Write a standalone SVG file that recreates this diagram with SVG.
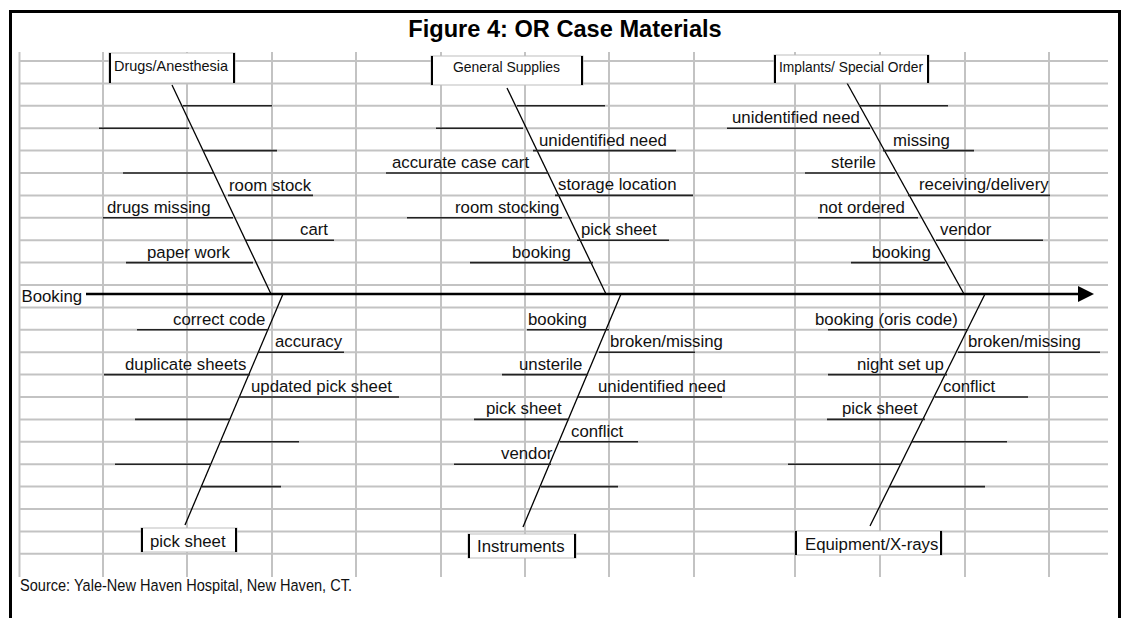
<svg xmlns="http://www.w3.org/2000/svg" width="1123" height="618" viewBox="0 0 1123 618">
<style>
.grid line{stroke:#c3c3c3;stroke-width:2}
.frame{stroke:#000;stroke-width:3;fill:none}
.bone{stroke:#000;stroke-width:1.3;fill:none}
.rib{stroke:#222;stroke-width:1.6}
.lbl{font-family:"Liberation Sans",Arial,sans-serif;font-size:16.8px;fill:#111}
.cat{font-family:"Liberation Sans",Arial,sans-serif;font-size:14.5px;fill:#111}
.box{fill:#fff;stroke:#bdbdbd;stroke-width:1}
.side{stroke:#000;stroke-width:2}
.title{font-family:"Liberation Sans",Arial,sans-serif;font-size:23.6px;font-weight:bold;fill:#000}
</style>
<defs>
<marker id="arrow" viewBox="0 0 16 16" refX="0" refY="8" markerWidth="16" markerHeight="16" markerUnits="userSpaceOnUse" orient="auto">
<path d="M0,0 L16,8 L0,16 z" fill="#000"/>
</marker>
</defs>
<rect width="1123" height="618" fill="#fff"/>
<g class="grid">
<line x1="19" y1="61" x2="1108" y2="61"/><line x1="19" y1="83.4" x2="1108" y2="83.4"/><line x1="19" y1="105.8" x2="1108" y2="105.8"/><line x1="19" y1="128.2" x2="1108" y2="128.2"/><line x1="19" y1="150.6" x2="1108" y2="150.6"/><line x1="19" y1="173" x2="1108" y2="173"/><line x1="19" y1="195.4" x2="1108" y2="195.4"/><line x1="19" y1="217.8" x2="1108" y2="217.8"/><line x1="19" y1="240.2" x2="1108" y2="240.2"/><line x1="19" y1="262.6" x2="1108" y2="262.6"/><line x1="19" y1="285" x2="1108" y2="285"/><line x1="19" y1="307.4" x2="1108" y2="307.4"/><line x1="19" y1="329.8" x2="1108" y2="329.8"/><line x1="19" y1="352.2" x2="1108" y2="352.2"/><line x1="19" y1="374.6" x2="1108" y2="374.6"/><line x1="19" y1="397" x2="1108" y2="397"/><line x1="19" y1="419.4" x2="1108" y2="419.4"/><line x1="19" y1="441.8" x2="1108" y2="441.8"/><line x1="19" y1="464.2" x2="1108" y2="464.2"/><line x1="19" y1="486.6" x2="1108" y2="486.6"/><line x1="19" y1="509" x2="1108" y2="509"/><line x1="19" y1="531.4" x2="1108" y2="531.4"/><line x1="19" y1="553.8" x2="1108" y2="553.8"/>
<line x1="19.5" y1="52" x2="19.5" y2="577"/><line x1="103" y1="52" x2="103" y2="577"/><line x1="187" y1="52" x2="187" y2="577"/><line x1="272" y1="52" x2="272" y2="577"/><line x1="356" y1="52" x2="356" y2="577"/><line x1="441" y1="52" x2="441" y2="577"/><line x1="525" y1="52" x2="525" y2="577"/><line x1="609" y1="52" x2="609" y2="577"/><line x1="694" y1="52" x2="694" y2="577"/><line x1="795" y1="52" x2="795" y2="577"/><line x1="880" y1="52" x2="880" y2="577"/><line x1="965" y1="52" x2="965" y2="577"/><line x1="1049" y1="52" x2="1049" y2="577"/>
</g>
<path class="frame" d="M10.5,618 V11.5 H1119.5 V618"/>
<text class="title" x="565" y="36.5" text-anchor="middle">Figure 4: OR Case Materials</text>
<text class="lbl" x="20" y="590.5" textLength="332" lengthAdjust="spacingAndGlyphs">Source: Yale-New Haven Hospital, New Haven, CT.</text>

<g id="connectors">
<line class="bone" x1="172" y1="85" x2="271" y2="294"/>
<line class="bone" x1="283" y1="294" x2="185" y2="525"/>
<line class="bone" x1="507" y1="88" x2="606" y2="294"/>
<line class="bone" x1="621" y1="294" x2="523" y2="527"/>
<line class="bone" x1="847" y1="83" x2="964" y2="294"/>
<line class="bone" x1="985" y1="294" x2="870" y2="526"/>
<line x1="86" y1="294" x2="1078" y2="294" stroke="#000" stroke-width="2.6" marker-end="url(#arrow)"/>
</g>

<g id="effect-booking"><text class="lbl" x="21.5" y="302">Booking</text></g>

<g id="cat-drugs"><rect class="box" x="109" y="53" width="126" height="30"/><line class="side" x1="110" y1="53" x2="110" y2="83"/><line class="side" x1="234" y1="53" x2="234" y2="83"/><text class="cat" x="114" y="71" textLength="114" lengthAdjust="spacingAndGlyphs">Drugs/Anesthesia</text></g>
<g id="cat-general"><rect class="box" x="431" y="56" width="152" height="29"/><line class="side" x1="432" y1="56" x2="432" y2="85"/><line class="side" x1="582" y1="56" x2="582" y2="85"/><text class="cat" x="453" y="72" textLength="107" lengthAdjust="spacingAndGlyphs">General Supplies</text></g>
<g id="cat-implants"><rect class="box" x="774" y="55" width="155" height="28"/><line class="side" x1="775" y1="55" x2="775" y2="83"/><line class="side" x1="928" y1="55" x2="928" y2="83"/><text class="cat" x="779" y="71.5" textLength="144" lengthAdjust="spacingAndGlyphs">Implants/ Special Order</text></g>
<g id="cat-picksheet"><rect class="box" x="141" y="528" width="96" height="24"/><line class="side" x1="142" y1="528" x2="142" y2="552"/><line class="side" x1="236" y1="528" x2="236" y2="552"/><text class="lbl" x="150" y="547">pick sheet</text></g>
<g id="cat-instruments"><rect class="box" x="468" y="534" width="108" height="24"/><line class="side" x1="469" y1="534" x2="469" y2="558"/><line class="side" x1="575" y1="534" x2="575" y2="558"/><text class="lbl" x="477" y="552">Instruments</text></g>
<g id="cat-equipment"><rect class="box" x="795" y="531" width="147" height="24"/><line class="side" x1="796" y1="531" x2="796" y2="555"/><line class="side" x1="941" y1="531" x2="941" y2="555"/><text class="lbl" x="805" y="549.5">Equipment/X-rays</text></g>

<!-- Drugs/Anesthesia causes -->
<g id="tl-1"><line class="rib" x1="183" y1="105.8" x2="272" y2="105.8"/></g>
<g id="tl-2"><line class="rib" x1="99" y1="128.2" x2="189" y2="128.2"/></g>
<g id="tl-3"><line class="rib" x1="203" y1="150.6" x2="277" y2="150.6"/></g>
<g id="tl-4"><line class="rib" x1="123" y1="173" x2="213" y2="173"/></g>
<g id="tl-room-stock"><line class="rib" x1="228" y1="195.4" x2="313" y2="195.4"/><text class="lbl" x="229" y="190.5">room stock</text></g>
<g id="tl-drugs-missing"><line class="rib" x1="103" y1="217.8" x2="233" y2="217.8"/><text class="lbl" x="107" y="212.8">drugs missing</text></g>
<g id="tl-cart"><line class="rib" x1="246" y1="240.2" x2="334" y2="240.2"/><text class="lbl" x="300" y="235.2">cart</text></g>
<g id="tl-paper-work"><line class="rib" x1="126" y1="262.6" x2="253" y2="262.6"/><text class="lbl" x="147" y="257.6">paper work</text></g>

<!-- pick sheet causes -->
<g id="bl-correct-code"><line class="rib" x1="137" y1="329.8" x2="268" y2="329.8"/><text class="lbl" x="173" y="324.8">correct code</text></g>
<g id="bl-accuracy"><line class="rib" x1="259" y1="352.2" x2="344" y2="352.2"/><text class="lbl" x="275" y="347.2">accuracy</text></g>
<g id="bl-duplicate"><line class="rib" x1="104" y1="374.6" x2="250" y2="374.6"/><text class="lbl" x="125" y="369.6">duplicate sheets</text></g>
<g id="bl-updated"><line class="rib" x1="239" y1="397" x2="399" y2="397"/><text class="lbl" x="251" y="392">updated pick sheet</text></g>
<g id="bl-5"><line class="rib" x1="135" y1="419.4" x2="230" y2="419.4"/></g>
<g id="bl-6"><line class="rib" x1="220" y1="441.8" x2="299" y2="441.8"/></g>
<g id="bl-7"><line class="rib" x1="115" y1="464.2" x2="211" y2="464.2"/></g>
<g id="bl-8"><line class="rib" x1="202" y1="486.6" x2="281" y2="486.6"/></g>

<!-- General Supplies causes -->
<g id="tm-1"><line class="rib" x1="517" y1="105.8" x2="605" y2="105.8"/></g>
<g id="tm-2"><line class="rib" x1="436" y1="128.2" x2="523" y2="128.2"/></g>
<g id="tm-unidentified"><line class="rib" x1="533" y1="150.6" x2="676" y2="150.6"/><text class="lbl" x="539" y="145.6">unidentified need</text></g>
<g id="tm-accurate"><line class="rib" x1="386" y1="173" x2="548" y2="173"/><text class="lbl" x="392" y="168">accurate case cart</text></g>
<g id="tm-storage"><line class="rib" x1="555" y1="195.4" x2="693" y2="195.4"/><text class="lbl" x="558" y="190.4">storage location</text></g>
<g id="tm-room-stocking"><line class="rib" x1="407" y1="217.8" x2="562" y2="217.8"/><text class="lbl" x="455" y="212.8">room stocking</text></g>
<g id="tm-pick-sheet"><line class="rib" x1="577" y1="240.2" x2="669" y2="240.2"/><text class="lbl" x="581" y="235.2">pick sheet</text></g>
<g id="tm-booking"><line class="rib" x1="470" y1="262.6" x2="593" y2="262.6"/><text class="lbl" x="512" y="257.6">booking</text></g>

<!-- Instruments causes -->
<g id="bm-booking"><line class="rib" x1="527" y1="329.8" x2="609" y2="329.8"/><text class="lbl" x="528" y="324.8">booking</text></g>
<g id="bm-broken"><line class="rib" x1="599" y1="352.2" x2="695" y2="352.2"/><text class="lbl" x="610" y="347.2">broken/missing</text></g>
<g id="bm-unsterile"><line class="rib" x1="502" y1="374.6" x2="588" y2="374.6"/><text class="lbl" x="519" y="369.6">unsterile</text></g>
<g id="bm-unidentified"><line class="rib" x1="578" y1="397" x2="722" y2="397"/><text class="lbl" x="598" y="392">unidentified need</text></g>
<g id="bm-pick-sheet"><line class="rib" x1="474" y1="419.4" x2="569" y2="419.4"/><text class="lbl" x="486" y="414.4">pick sheet</text></g>
<g id="bm-conflict"><line class="rib" x1="560" y1="441.8" x2="638" y2="441.8"/><text class="lbl" x="571" y="436.8">conflict</text></g>
<g id="bm-vendor"><line class="rib" x1="454" y1="464.2" x2="551" y2="464.2"/><text class="lbl" x="501" y="459.2">vendor</text></g>
<g id="bm-8"><line class="rib" x1="541" y1="486.6" x2="618" y2="486.6"/></g>

<!-- Implants causes -->
<g id="tr-1"><line class="rib" x1="859" y1="105.8" x2="948" y2="105.8"/></g>
<g id="tr-unidentified"><line class="rib" x1="727" y1="128.2" x2="870" y2="128.2"/><text class="lbl" x="732" y="123.2">unidentified need</text></g>
<g id="tr-missing"><line class="rib" x1="883" y1="150.6" x2="974" y2="150.6"/><text class="lbl" x="893" y="145.6">missing</text></g>
<g id="tr-sterile"><line class="rib" x1="805" y1="173" x2="895" y2="173"/><text class="lbl" x="831" y="168">sterile</text></g>
<g id="tr-receiving"><line class="rib" x1="908" y1="195.4" x2="1050" y2="195.4"/><text class="lbl" x="919" y="190.4">receiving/delivery</text></g>
<g id="tr-not-ordered"><line class="rib" x1="818" y1="217.8" x2="918" y2="217.8"/><text class="lbl" x="819" y="212.8">not ordered</text></g>
<g id="tr-vendor"><line class="rib" x1="936" y1="240.2" x2="1043" y2="240.2"/><text class="lbl" x="940" y="235.2">vendor</text></g>
<g id="tr-booking"><line class="rib" x1="851" y1="262.6" x2="945" y2="262.6"/><text class="lbl" x="872" y="257.6">booking</text></g>

<!-- Equipment/X-rays causes -->
<g id="br-booking"><line class="rib" x1="828" y1="329.8" x2="968" y2="329.8"/><text class="lbl" x="815" y="324.8">booking (oris code)</text></g>
<g id="br-broken"><line class="rib" x1="958" y1="352.2" x2="1100" y2="352.2"/><text class="lbl" x="968" y="347.2">broken/missing</text></g>
<g id="br-night"><line class="rib" x1="828" y1="374.6" x2="947" y2="374.6"/><text class="lbl" x="857" y="369.6">night set up</text></g>
<g id="br-conflict"><line class="rib" x1="935" y1="397" x2="1028" y2="397"/><text class="lbl" x="943" y="392">conflict</text></g>
<g id="br-pick-sheet"><line class="rib" x1="827" y1="419.4" x2="925" y2="419.4"/><text class="lbl" x="842" y="414.4">pick sheet</text></g>
<g id="br-6"><line class="rib" x1="912" y1="441.8" x2="1007" y2="441.8"/></g>
<g id="br-7"><line class="rib" x1="788" y1="464.2" x2="901" y2="464.2"/></g>
<g id="br-8"><line class="rib" x1="890" y1="486.6" x2="985" y2="486.6"/></g>
</svg>
